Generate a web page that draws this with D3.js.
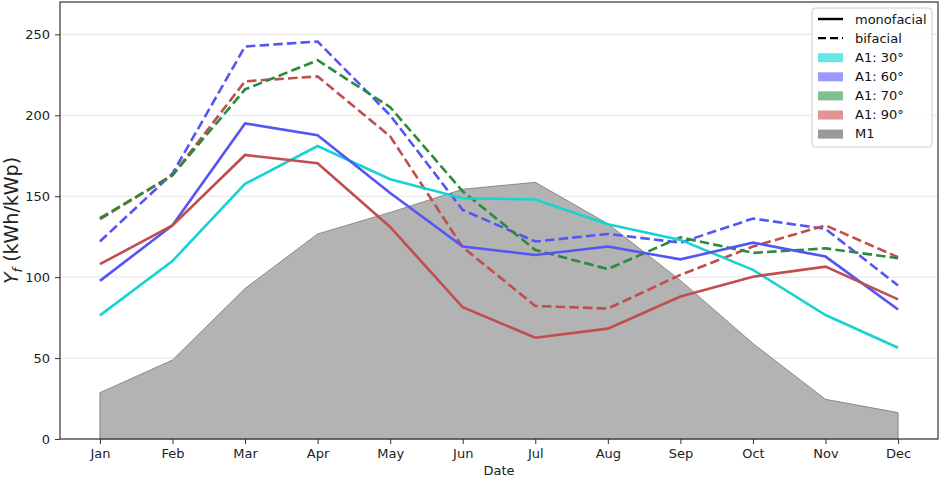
<!DOCTYPE html>
<html><head><meta charset="utf-8">
<script src="https://cdn.jsdelivr.net/npm/d3@7"></script>
<style>body{margin:0;background:#fff}svg{display:block;font-family:"DejaVu Sans",sans-serif}</style>
</head><body><svg id="c" width="941" height="478"></svg>
<script>
const months = ["Jan","Feb","Mar","Apr","May","Jun","Jul","Aug","Sep","Oct","Nov","Dec"];
const yTicks = [0,50,100,150,200,250];
const m1 = [28.6,48.8,93,126.7,140,154.3,158.6,133,98,59,24.5,16.3];
const mono30 = [76.4,110,157.6,181,160.5,148.7,148,132.7,123,104.5,76.6,56.4];
const mono60 = [97.7,132,195,187.7,152,118.9,113.7,118.9,111,121.3,112.7,80];
const mono90 = [108,132,175.5,170.4,131,81.4,62.6,68.2,88,100.3,106.5,86.3];
const bi60 = [122,164,242.5,245.6,200,141.5,122,126.7,121.3,136.2,129.8,94.8];
const bi70 = [136.4,163,216,234,205,153,116.8,105,124.6,115,117.8,111.7];
const bi90 = [135.8,163,221,224,187,118.5,82.2,80.6,101.4,118.9,132,112.3];

const svg = d3.select("#c");
const L=60, R=938, T=2, B=439;
const x = d3.scaleLinear().domain([-0.55, 11.55]).range([L,R]);
const y = d3.scaleLinear().domain([0,270]).range([B,T]);

// grid
svg.append("g").selectAll("line").data(yTicks).join("line")
  .attr("x1",L).attr("x2",R).attr("y1",d=>y(d)).attr("y2",d=>y(d))
  .attr("stroke","#e5e5e5").attr("stroke-width",1);

// area M1
const area = d3.area().x((d,i)=>x(i)).y0(y(0)).y1(d=>y(d));
svg.append("path").datum(m1).attr("d",area).attr("fill","#b3b3b3")
  .attr("stroke","#777").attr("stroke-width",0.8);

const line = d3.line().x((d,i)=>x(i)).y(d=>y(d));
const cCyan="#17d3d3", cBlue="#5555f6", cGreen="#2b8a3c", cRed="#c14e4e";
const series = [
  {d:bi60,c:cBlue,dash:true},
  {d:bi90,c:cRed,dash:true},
  {d:bi70,c:cGreen,dash:true},
  {d:mono30,c:cCyan,dash:false},
  {d:mono60,c:cBlue,dash:false},
  {d:mono90,c:cRed,dash:false},
];
series.forEach(s=>{
  svg.append("path").datum(s.d).attr("d",line).attr("fill","none")
    .attr("stroke",s.c).attr("stroke-width",2.6)
    .attr("stroke-dasharray",s.dash?"9.5,4.2":null);
});

// axes
const xa = d3.axisBottom(x).tickValues(d3.range(12)).tickFormat(i=>months[i]).tickSize(5).tickPadding(5);
const gx = svg.append("g").attr("transform",`translate(0,${B})`).call(xa);
const ya = d3.axisLeft(y).tickValues(yTicks).tickSize(5).tickPadding(5);
const gy = svg.append("g").attr("transform",`translate(${L},0)`).call(ya);
[gx,gy].forEach(g=>{
  g.select(".domain").remove();
  g.selectAll("text").attr("font-size",13).attr("fill","#222").attr("font-family","DejaVu Sans");
  g.selectAll("line").attr("stroke","#333").attr("stroke-width",1);
});
// frame
svg.append("rect").attr("x",L).attr("y",T).attr("width",R-L).attr("height",B-T)
  .attr("fill","none").attr("stroke","#333").attr("stroke-width",1.2);

svg.append("text").attr("x",(L+R)/2).attr("y",475).attr("text-anchor","middle")
  .attr("font-size",13).attr("fill","#222").text("Date");
const yl = svg.append("text").attr("transform",`translate(18,${(T+B)/2}) rotate(-90)`)
  .attr("text-anchor","middle").attr("font-size",19).attr("fill","#222");
yl.append("tspan").attr("font-style","italic").text("Y");
yl.append("tspan").attr("font-style","italic").attr("font-size",13).attr("dy",4).text("f");
yl.append("tspan").attr("dy",-4).text(" (kWh/kWp)");

// legend
const lg = svg.append("g");
lg.append("rect").attr("x",812).attr("y",8).attr("width",120).attr("height",139)
  .attr("rx",3).attr("fill","#fff").attr("fill-opacity",0.85).attr("stroke","#ccc");
const items = [
  {t:"monofacial",type:"line",c:"#000"},
  {t:"bifacial",type:"dash",c:"#000"},
  {t:"A1: 30°",type:"patch",c:"#66e6e6"},
  {t:"A1: 60°",type:"patch",c:"#9999ff"},
  {t:"A1: 70°",type:"patch",c:"#80bf8e"},
  {t:"A1: 90°",type:"patch",c:"#e09494"},
  {t:"M1",type:"patch",c:"#999"},
];
items.forEach((it,i)=>{
  const yy = 19 + i*19.1;
  if(it.type==="patch"){
    lg.append("rect").attr("x",818).attr("y",yy-4).attr("width",25).attr("height",9).attr("fill",it.c);
  } else {
    lg.append("line").attr("x1",818).attr("x2",843).attr("y1",yy).attr("y2",yy)
      .attr("stroke",it.c).attr("stroke-width",2.4).attr("stroke-dasharray",it.type==="dash"?"8,4":null);
  }
  lg.append("text").attr("x",855).attr("y",yy+4.5).attr("font-size",13).attr("fill","#111").text(it.t);
});
</script></body></html>
